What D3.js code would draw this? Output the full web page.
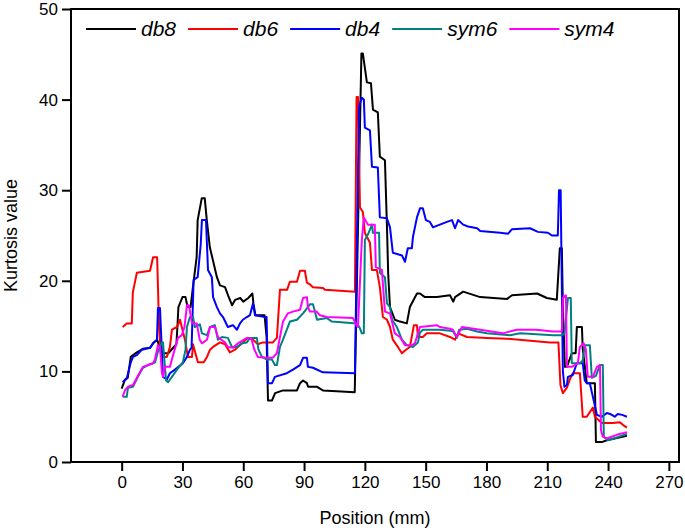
<!DOCTYPE html>
<html>
<head>
<meta charset="utf-8">
<script src="https://cdn.jsdelivr.net/npm/d3@7"></script>
<style>
  body { margin: 0; background: #fff; }
  text { font-family: "Liberation Sans", Arial, sans-serif; }
</style>
</head>
<body>
<div id="vis"></div>
<script>
// series names and colours
const seriesNames = ['db8', 'db6', 'db4', 'sym6', 'sym4'];
const seriesColors = ['#000000', '#ff0000', '#0000ff', '#008080', '#ff00ff'];

const xTicks = [0, 30, 60, 90, 120, 150, 180, 210, 240, 270];
const yTicks = [0, 10, 20, 30, 40, 50];

// [position (mm), kurtosis]
const db8 = [[0,8.1],[1.5,9.0],[3,9.3],[4.5,11.6],[7.5,12.1],[10.5,12.5],[14,12.6],[15.5,13.1],[17.5,13.5],[19,12.5],[20,12.0],[23,12.0],[27,13],[27.5,14.9],[28,17.1],[30,18.2],[31.5,18.2],[32.5,17.1],[34,17.1],[35,19.0],[37,22.6],[37.5,26.7],[39.5,29.1],[41,29.1],[42,26.7],[43.5,23.7],[45,22.3],[47,20.4],[48.5,19.5],[51,19.3],[52.5,18.4],[54.5,17.3],[56,17.9],[58.5,18.1],[60,17.7],[62.5,18.1],[64.5,18.6],[65,17.5],[66,16.2],[70.5,16.2],[71.5,13.8],[72.2,6.8],[74.2,6.8],[75.7,7.6],[79.6,7.9],[86.5,7.9],[88,8.7],[89.5,9.0],[91.4,8.7],[92,8.3],[96.4,8.3],[99.3,7.9],[115,7.7],[118.3,45.1],[119,45.1],[121,41.9],[123,41.8],[124,38.9],[126.4,38.6],[127.4,33.7],[129.9,33.3],[130.9,26],[131.5,20.8],[132.4,17.1],[134.8,15.7],[137.3,15.5],[140.7,15.3],[142.2,17.1],[145.7,18.6],[147.2,18.6],[149.6,18.2],[155.6,18.2],[162,18.4],[163.6,17.7],[164.5,18.2],[168.5,18.8],[176.9,18.2],[190.2,18.0],[192.6,18.4],[205,18.6],[209.8,18.1],[214.7,17.9],[216.2,23.6],[217.2,23.6],[217.7,17],[218.7,10.5],[219.7,10.5],[222.1,12.0],[224,12.0],[224.6,14.9],[227.1,14.9],[227.5,12.5],[229.5,8.7],[233.5,8.7],[234,2.2],[236.9,2.2],[239.4,2.4],[249.3,2.9]];

const db6 = [[0.5,14.9],[2.5,15.3],[5,15.3],[5.5,18.7],[7.5,20.9],[14,21.1],[15.5,22.6],[17.5,22.6],[18.5,14.6],[19.5,11.6],[22.3,11.6],[23.8,12.7],[24.8,14.6],[27.3,14.9],[28.8,15.7],[31.2,13.5],[32.7,11.6],[34.7,11.6],[35.2,13],[37.6,11.0],[40.5,11.0],[42.1,11.6],[43.6,12.4],[45.1,12.7],[48.5,13.2],[51,13.0],[53.4,12.1],[55.9,12.4],[58.4,12.9],[62.3,13.7],[64.8,13.5],[67.2,13.0],[69.7,13.2],[74.6,13.2],[76.6,13.7],[78.1,19.0],[81.6,19.0],[83,19.9],[86.5,19.9],[88,21.1],[90.4,21.1],[91.4,19.8],[92.9,19.6],[94.4,19.3],[99.3,19.2],[100.3,19.0],[115.1,18.8],[115.9,40.3],[116.6,40.3],[117.6,28.1],[119,27.6],[120,25.3],[122.5,24.2],[123.5,21.2],[125.9,21.2],[127.4,19.3],[128.9,16.0],[130.9,15.7],[132.4,14.9],[133.8,13.5],[136.3,12.7],[138.3,12.0],[139.8,12.3],[142.2,12.7],[144.2,15.1],[145.7,15.1],[146.2,13.8],[148.6,13.8],[150.6,14.2],[157,14.2],[162,13.8],[164.5,13.5],[166,14.2],[170.4,13.8],[180.2,13.7],[190.2,13.6],[211.3,13.2],[215.5,13.2],[216.5,8.5],[217.7,7.6],[219.7,8.2],[221.1,9.1],[222.6,9.8],[226.1,9.8],[227.5,5.0],[229.5,5.0],[231,5.5],[232.5,6.0],[233.5,5.0],[236.9,4.3],[242.4,4.3],[245.8,4.4],[247.3,4.1],[249.3,3.8]];

const db4 = [[0.5,8.8],[2.6,9.3],[4.5,11.0],[5.6,11.6],[7.5,11.8],[10,12.4],[14,12.6],[15.5,13.1],[17.4,13.5],[17.9,17.0],[18.9,17.0],[20.4,9.4],[22.3,9.1],[23.8,9.8],[26.3,10.2],[30.2,10.9],[32.2,11.6],[33.7,12.4],[34.5,12.6],[35.5,20.1],[37.5,20.4],[39,24],[39.6,26.7],[41.6,26.7],[42.6,21.2],[44.5,20.4],[45.1,18.2],[47,17.1],[48.5,16.4],[50,16.0],[52.4,14.9],[54.9,15.1],[56.9,14.6],[58.4,15.3],[59.8,15.7],[61.8,16.0],[63.3,16.2],[64.8,17.5],[65.8,16.2],[70.7,16.0],[71.5,16.0],[72.2,8.7],[74.2,8.7],[75.6,9.4],[81.5,9.8],[84.5,10.2],[88,10.7],[89.5,11.5],[91.4,11.5],[91.9,10.5],[94.4,10.4],[99.3,9.9],[115.1,9.8],[117.1,39.2],[118.5,40.2],[119.5,40.0],[120,36.9],[122.5,36.6],[123.5,32.6],[126.4,32.5],[127.4,27.0],[130.9,26.9],[132.4,25.9],[133.8,23.1],[138.3,22.8],[139.8,22.1],[141.2,23.6],[143.2,23.6],[143.7,24.8],[145.7,27.0],[147.2,28.0],[148.6,28.0],[150.1,26.7],[152.1,26.5],[153.6,25.9],[157,26.2],[160.5,26.5],[163,26.7],[164.5,25.8],[166,26.7],[168.5,26.2],[170.9,26.0],[175.4,25.8],[176.9,25.5],[186.7,25.3],[190.7,25.2],[192.6,25.7],[201.5,25.8],[205.4,25.4],[210.3,25.3],[212.3,25.0],[215.2,25.0],[215.8,30.0],[216.6,30.0],[217.7,10],[218.5,8.3],[219.7,8.5],[220.2,9.4],[222.6,9.6],[224.6,10.9],[227.5,10.9],[228.5,9],[229.5,8.7],[231,8.7],[234.5,5.2],[236.9,5.0],[239.4,5.4],[241,5.3],[243.3,5.0],[244.8,5.3],[247,5.2],[249.3,5.0]];

const sym6 = [[0.5,7.2],[2.5,7.2],[3.1,8.2],[5.6,8.3],[8,9.4],[10.5,10.4],[13,10.7],[15.5,10.9],[16.5,11.0],[17.9,12.2],[19.9,13.2],[20.4,13.2],[21.9,9.0],[22.9,8.8],[24.8,9.4],[27.3,10.2],[30.2,11.0],[31.5,12.4],[32.2,14.9],[33.7,16.0],[35.2,16.0],[36.1,14.9],[38.6,15.2],[39.6,14.2],[42.1,14.0],[43.6,14.9],[46,15.1],[47.5,13.5],[49.5,13.8],[52.4,13.7],[54.4,12.7],[56.9,12.7],[59.4,13.1],[61.8,13.2],[63.3,13.7],[66.7,13.7],[67.5,12.4],[69.2,11.6],[71.7,11.3],[74.2,11.3],[75.6,10.7],[76.6,10.7],[78.1,12.7],[79.6,13.5],[81.5,14.6],[83,15.5],[86.5,15.7],[89.5,16.4],[92.9,17.4],[94.4,17.4],[96.4,15.7],[101.2,15.9],[103.7,15.5],[116.1,15.3],[117.5,14.8],[118.5,14.2],[119.5,14.2],[120,24.5],[121.5,25.1],[123.5,26.2],[124,25.3],[127,25.3],[127.4,20.9],[129.9,20.4],[130.9,17.5],[132.4,17.1],[133.4,15.7],[135.8,14.9],[138.3,13.5],[140.7,12.9],[143.7,12.7],[146.2,13.2],[147.2,14.3],[148.6,14.6],[157,14.6],[162,14.5],[163.6,14.4],[165.4,13.7],[166.5,14.6],[170.4,14.7],[175.4,14.4],[180.2,14.2],[191.6,14.0],[196.6,14.2],[212.8,14.0],[217.2,14.0],[218.5,14.2],[220.2,18.1],[221.6,18.1],[222.1,10.9],[226.1,10.9],[227.5,11.2],[228.5,12.9],[231,12.9],[232,9.3],[234,9.5],[236,10.7],[237.4,10.7],[237.9,2.8],[239.9,2.4],[244.3,2.7],[249.3,3.1]];

const sym4 = [[0.5,7.2],[1.6,7.9],[3.1,8.3],[5.6,8.5],[7.5,9.3],[9,9.9],[10.5,10.5],[13,10.7],[15.5,10.9],[16.4,11.3],[17.9,12.9],[18.9,12.7],[19.9,9.8],[20.4,9.4],[21.4,10.5],[23.8,10.5],[25,11.5],[27.8,13.7],[29.7,14.0],[31,14.9],[32.2,17.3],[33.2,17.3],[34.7,15.3],[37.1,15.3],[38.5,13.5],[39.6,13.1],[42.1,13.5],[43.6,14.9],[46,14.9],[47.5,13.8],[48.5,13.6],[51,13.2],[52.4,12.7],[54.9,12.6],[57.4,13.1],[61.8,13.7],[64,13.6],[65.5,12.4],[67.2,11.6],[71.7,11.5],[74.5,11.5],[76.6,12.0],[78.1,13.8],[79.6,15.5],[82,16.4],[84.5,16.6],[88,16.8],[89.5,18.1],[91.4,18.2],[91.9,17.1],[92.9,16.6],[96.2,16.6],[97.8,16.2],[101.2,16.0],[114.1,15.9],[116.1,15.0],[116.6,14.9],[118.5,24.5],[119.5,27.0],[121.5,26.2],[124.9,26.2],[125.4,21.5],[128.4,21.2],[129.9,16.6],[132.4,16.4],[134.8,14.2],[137.3,13.8],[139.8,12.9],[143.2,12.9],[144.7,13.1],[147.2,14.9],[155.6,15.1],[157,14.9],[162,14.7],[163.4,14.6],[165.4,13.8],[167.9,14.9],[176.9,14.6],[188,14.2],[194.9,14.6],[204.7,14.6],[212.8,14.4],[217.2,14.4],[217.7,18.1],[219.2,18.4],[219.7,10.5],[222.1,10.5],[225.1,10.9],[226.1,12.7],[228,13.1],[229,12.5],[230,9.4],[232.5,9.4],[234.5,10.5],[236,10.7],[236.5,3.5],[237.4,2.8],[239.4,2.6],[244.3,3.0],[249.3,3.3]];

const seriesData = [db8, db6, db4, sym6, sym4];

const width = 685, height = 531;
const plot = { left: 71, right: 679, top: 9, bottom: 462 };

const svg = d3.select('#vis').append('svg')
  .attr('width', width)
  .attr('height', height);

const x = d3.scaleLinear().domain([-25, 275]).range([plot.left, plot.right]);
const y = d3.scaleLinear().domain([0, 50]).range([plot.bottom, plot.top]);

// axes
const xAxis = svg.append('g')
  .attr('transform', `translate(0,${plot.bottom})`)
  .call(d3.axisBottom(x).tickValues(xTicks).tickSize(9).tickSizeOuter(0).tickPadding(5));
const yAxis = svg.append('g')
  .attr('transform', `translate(${plot.left},0)`)
  .call(d3.axisLeft(y).tickValues(yTicks).tickSize(9).tickSizeOuter(0).tickPadding(4));

[xAxis, yAxis].forEach(ax => {
  ax.select('.domain').remove();
  ax.selectAll('line').attr('stroke', '#000').attr('stroke-width', 2);
  ax.selectAll('text')
    .attr('fill', '#000')
    .style('font-size', '17px')
    .style('font-family', '"Liberation Sans", Arial, sans-serif');
});

// frame
svg.append('rect')
  .attr('x', plot.left)
  .attr('y', plot.top)
  .attr('width', plot.right - plot.left)
  .attr('height', plot.bottom - plot.top)
  .attr('fill', 'none')
  .attr('stroke', '#000')
  .attr('stroke-width', 2);

// lines
const line = d3.line()
  .x(d => x(d[0]))
  .y(d => y(d[1]));

svg.append('g')
  .selectAll('path')
  .data(seriesData)
  .join('path')
    .attr('d', line)
    .attr('fill', 'none')
    .attr('stroke', (_, i) => seriesColors[i])
    .attr('stroke-width', 2)
    .attr('stroke-linejoin', 'round');

// legend
const legend = svg.append('g').attr('transform', 'translate(0,29)');
let lx = 86;
seriesNames.forEach((name, i) => {
  legend.append('line')
    .attr('x1', lx).attr('x2', lx + 50)
    .attr('y1', 0).attr('y2', 0)
    .attr('stroke', seriesColors[i])
    .attr('stroke-width', 2);
  const t = legend.append('text')
    .attr('x', lx + 55)
    .attr('y', 7)
    .style('font-size', '21px')
    .style('font-style', 'italic')
    .text(name);
  lx += 55 + t.node().getComputedTextLength() + 12;
});

// axis titles
svg.append('text')
  .attr('x', (plot.left + plot.right) / 2)
  .attr('y', 524)
  .attr('text-anchor', 'middle')
  .style('font-size', '18px')
  .text('Position (mm)');

svg.append('text')
  .attr('transform', `translate(17,${(plot.top + plot.bottom) / 2}) rotate(-90)`)
  .attr('text-anchor', 'middle')
  .style('font-size', '18px')
  .text('Kurtosis value');
</script>
</body>
</html>
